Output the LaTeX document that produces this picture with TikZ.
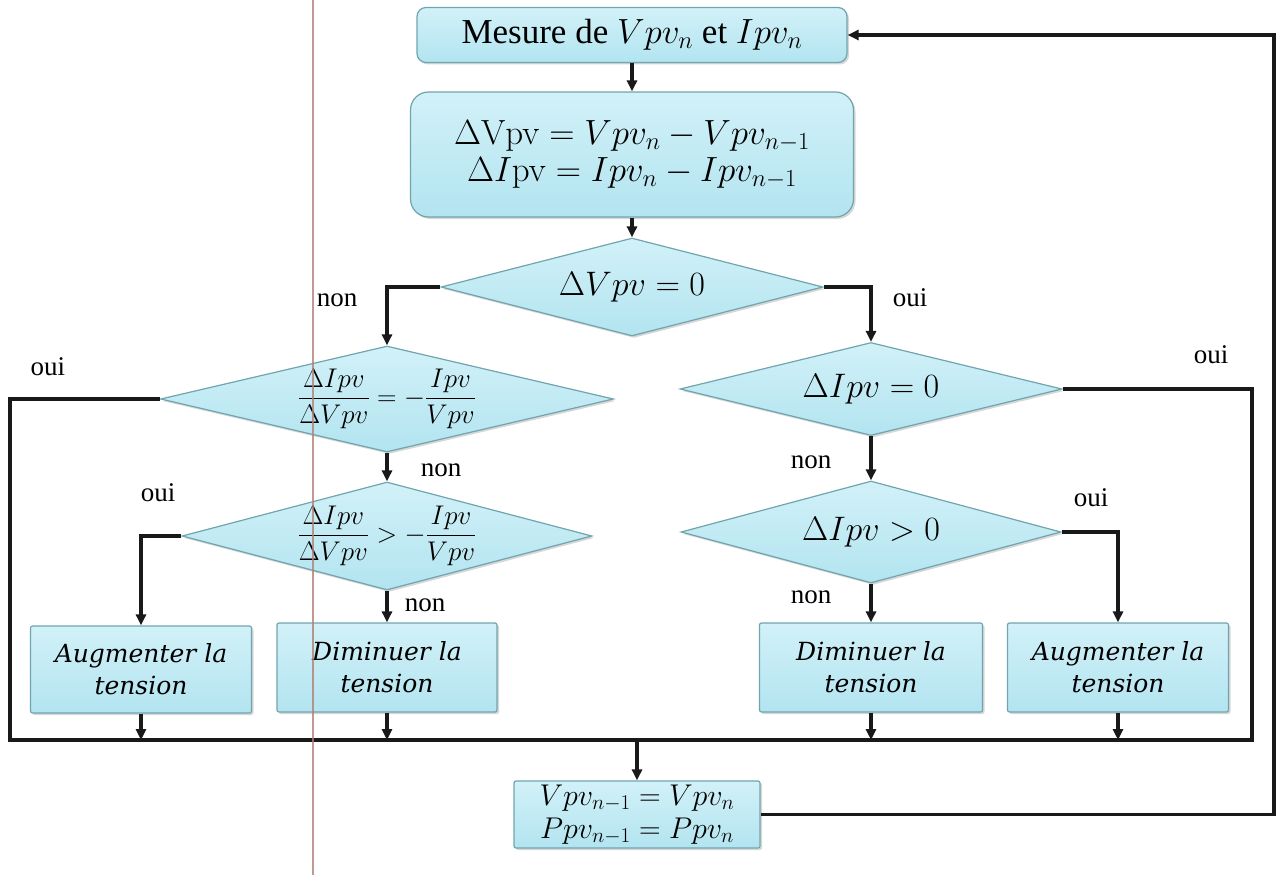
\RequirePackage{fix-cm}
\documentclass[tikz,border=0pt]{standalone}
\usepackage{amsmath}
\usepackage[no-math]{fontspec}
\setmainfont{Liberation Serif}
\newfontfamily\boxfont{DejaVu Serif}
\usetikzlibrary{shapes.geometric,arrows.meta,shadows}

\definecolor{flowfill}{RGB}{178,228,240}
\definecolor{flowfilltop}{RGB}{210,241,248}
\definecolor{flowedge}{RGB}{112,165,174}
\definecolor{rulebrown}{RGB}{176,128,118}

\begin{document}
\begin{tikzpicture}[x=1pt,y=-1pt,
  shapebase/.style={draw=flowedge, line width=1.2pt, top color=flowfilltop, bottom color=flowfill,
    drop shadow={shadow xshift=2pt, shadow yshift=-2pt, fill=black!45, opacity=0.35}},
  proc/.style={shapebase, inner sep=0pt, align=center},
  action/.style={proc, rounded corners=2pt, font=\boxfont\itshape\fontsize{25}{32}\selectfont},
  decision/.style={shapebase, diamond, inner sep=0pt},
  mtxt/.style={inner sep=0pt, font=\fontsize{34}{40}\selectfont},
  ftxt/.style={inner sep=0pt, font=\fontsize{27}{32}\selectfont},
  lbl/.style={inner sep=0pt, font=\fontsize{27}{30}\selectfont},
  wire/.style={line width=3.3pt, black!90},
  flow/.style={wire, -{Triangle[length=11pt,width=10pt]}}]

\useasboundingbox (0,0) rectangle (1277,875);

% process boxes
\node[proc, rounded corners=9pt, minimum width=430pt, minimum height=55pt,
      font=\fontsize{35}{38}\selectfont] (mes) at (632,35) {Mesure de $Vpv_n$ et $Ipv_n$};
\node[proc, rounded corners=18pt, minimum width=443pt, minimum height=125pt,
      font=\fontsize{35}{40}\selectfont] (calc) at (632,154.5)
  {$\Delta\mathrm{Vpv} = Vpv_n - Vpv_{n-1}$\\[-3pt] $\Delta I\mathrm{pv} = Ipv_n - Ipv_{n-1}$};

% decisions
\node[decision, minimum width=382pt, minimum height=98pt] (dv) at (632,287) {};
\node[mtxt] at (dv) {$\Delta Vpv = 0$};

\node[decision, minimum width=453pt, minimum height=106pt] (q1) at (387,399) {};
\node[ftxt] at (q1) {$\dfrac{\Delta Ipv}{\Delta Vpv} = -\dfrac{Ipv}{Vpv}$};

\node[decision, minimum width=410pt, minimum height=108pt] (q2) at (387,536) {};
\node[ftxt] at (q2) {$\dfrac{\Delta Ipv}{\Delta Vpv} > -\dfrac{Ipv}{Vpv}$};

\node[decision, minimum width=382pt, minimum height=93pt] (di) at (871,389) {};
\node[mtxt] at (di) {$\Delta Ipv = 0$};

\node[decision, minimum width=380pt, minimum height=102pt] (dp) at (871,532) {};
\node[mtxt] at (dp) {$\Delta Ipv > 0$};

% actions
\node[action, minimum width=221pt, minimum height=87pt] (aL) at (141,669.5) {Augmenter la\\tension};
\node[action, minimum width=220pt, minimum height=89pt] (dL) at (387,667.5) {Diminuer la\\tension};
\node[action, minimum width=223pt, minimum height=89pt] (dR) at (871,667.5) {Diminuer la\\tension};
\node[action, minimum width=221pt, minimum height=89pt] (aR) at (1118,667.5) {Augmenter la\\tension};

% update box
\node[proc, rounded corners=2pt, minimum width=246pt, minimum height=67pt,
      font=\fontsize{30}{33}\selectfont] (upd) at (637,814.5)
  {$Vpv_{n-1} = Vpv_n$\\ $Ppv_{n-1} = Ppv_n$};

% bus and loop corners
\coordinate (busL) at (10,740);
\coordinate (busR) at (1252,740);
\coordinate (lp) at (1274,35);

% connectors
\draw[flow] (mes.south) -- (calc.north);
\draw[flow] (calc.south) -- (dv.north);
\draw[flow] (dv.west) -| (q1.north);
\draw[flow] (dv.east) -| (di.north);
\draw[flow] (q1.south) -- (q2.north);
\draw[flow] (q2.west) -| (aL.north);
\draw[flow] (q2.south) -- (dL.north);
\draw[flow] (di.south) -- (dp.north);
\draw[flow] (dp.east) -| (aR.north);
\draw[flow] (dp.south) -- (dR.north);
\draw[wire] (q1.west) -| (busL) -- (busR) |- (di.east);
\draw[flow] (aL.south) -- (aL.south |- busL);
\draw[flow] (dL.south) -- (dL.south |- busL);
\draw[flow] (dR.south) -- (dR.south |- busL);
\draw[flow] (aR.south) -- (aR.south |- busL);
\draw[flow] (upd.north |- busL) -- (upd.north);
\draw[flow] (upd.east) -| (lp) -- (mes.east);

% branch labels
\node[lbl] (l1) at (337,300) {non};
\node[lbl] (l2) at (910,298) {oui};
\node[lbl] (l3) at (48,367) {oui};
\node[lbl] (l4) at (1211,355) {oui};
\node[lbl] (l5) at (441,470) {non};
\node[lbl] (l6) at (811,462) {non};
\node[lbl] (l7) at (158,493) {oui};
\node[lbl] (l8) at (1091,498) {oui};
\node[lbl] (l9) at (425,605) {non};
\node[lbl] (l10) at (811,597) {non};

% margin rule across the page
\draw[rulebrown, line width=2pt, opacity=0.8] (313,0) -- (313,875);
\end{tikzpicture}
\end{document}
